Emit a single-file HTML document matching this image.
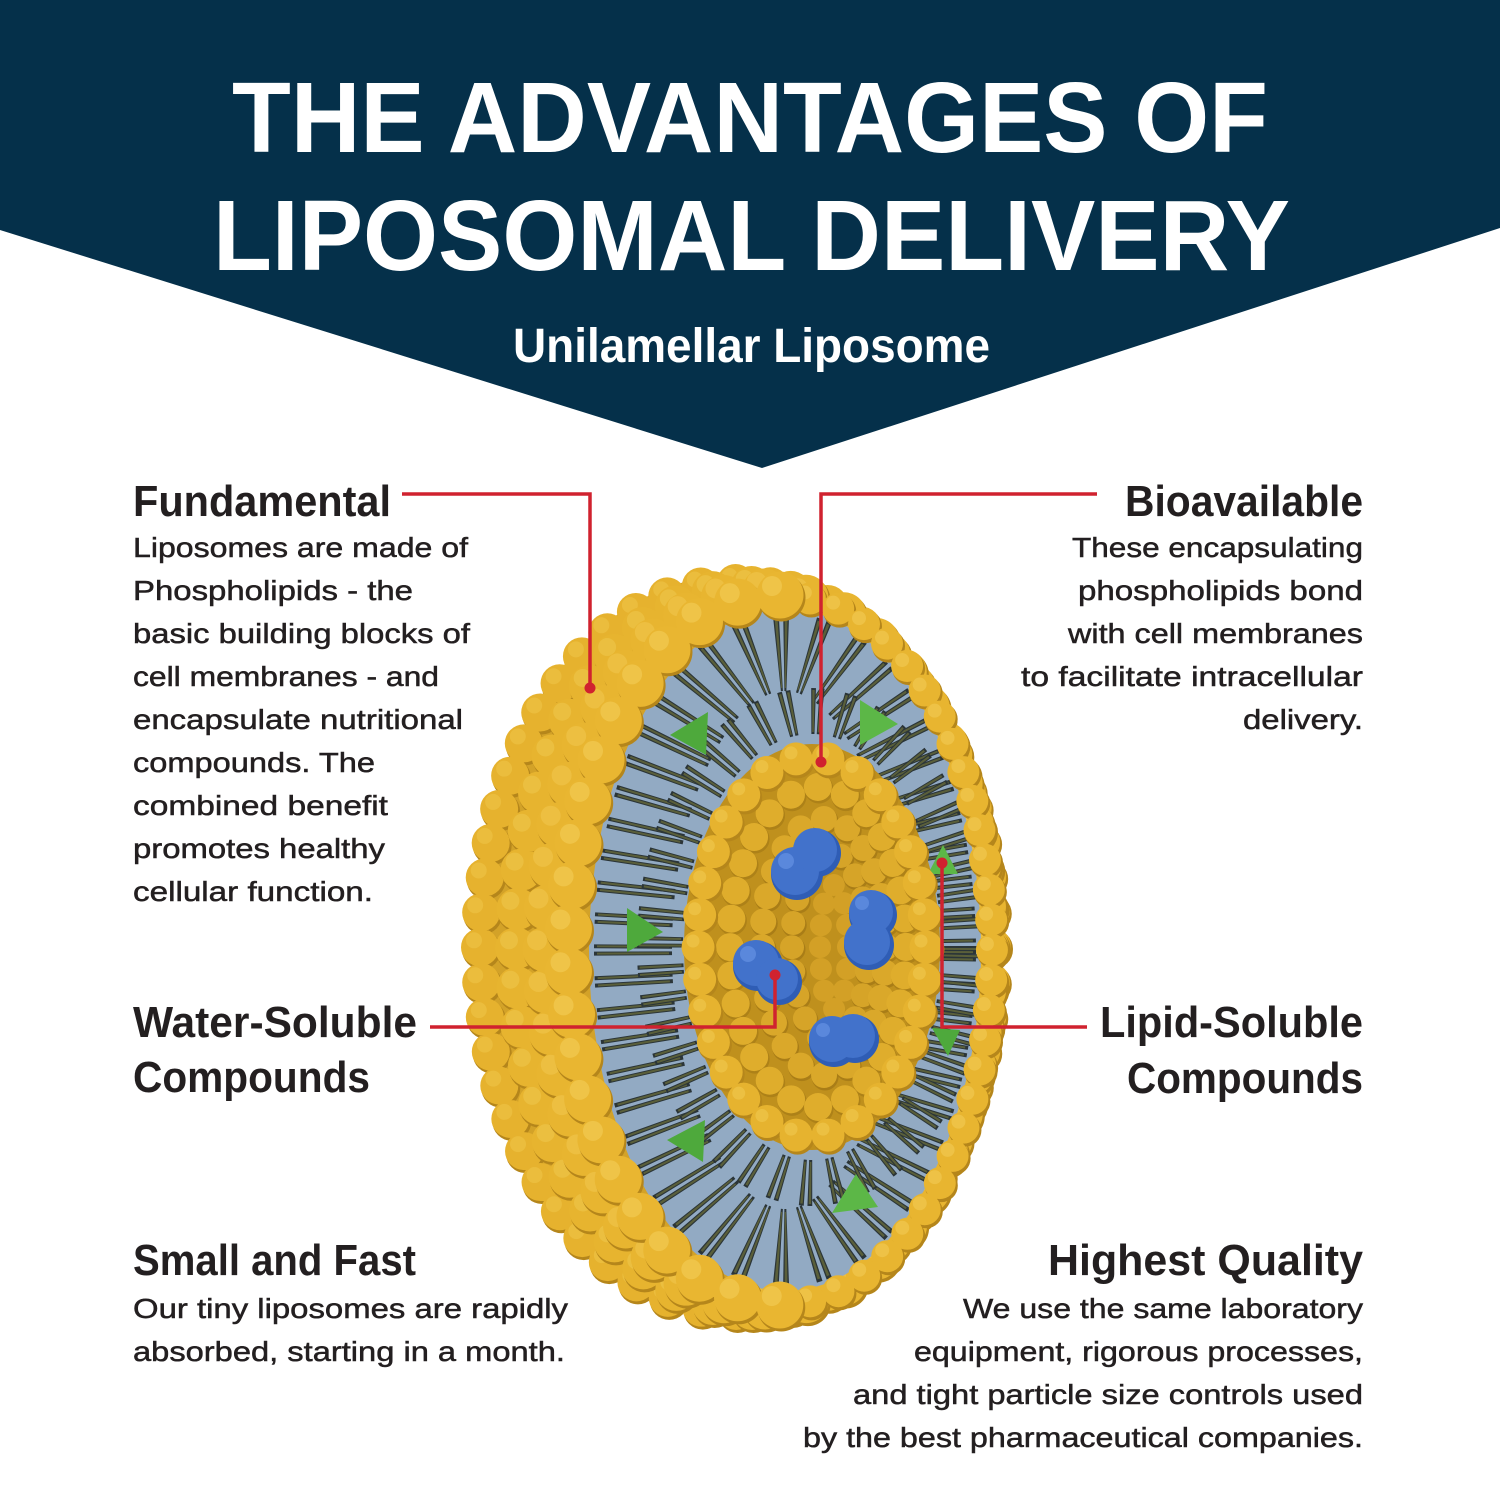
<!DOCTYPE html>
<html>
<head>
<meta charset="utf-8">
<style>
html,body{margin:0;padding:0;background:#fff;}
svg{display:block;}
text{font-family:"Liberation Sans",Arial,sans-serif;}
.h{font-size:44px;font-weight:700;fill:#231f20;}
.b{font-size:28px;fill:#231f20;stroke:#231f20;stroke-width:0.5px;}
</style>
</head>
<body>
<svg width="1500" height="1501" viewBox="0 0 1500 1501" xmlns="http://www.w3.org/2000/svg">
<defs>
  <clipPath id="blueClip"><ellipse cx="785" cy="950" rx="196" ry="341"/></clipPath>
</defs>
<rect x="0" y="0" width="1500" height="1501" fill="#fff"/>
<!-- banner -->
<polygon points="0,0 1500,0 1500,228 762,468 0,230" fill="#05304a"/>
<text x="232" y="152" font-size="100" font-weight="700" fill="#fff" textLength="1036" lengthAdjust="spacingAndGlyphs">THE ADVANTAGES OF</text>
<text x="213" y="270" font-size="100" font-weight="700" fill="#fff" textLength="1077" lengthAdjust="spacingAndGlyphs">LIPOSOMAL DELIVERY</text>
<text x="513" y="362" font-size="48" font-weight="700" fill="#fff" textLength="477" lengthAdjust="spacingAndGlyphs">Unilamellar Liposome</text>

<!-- ===== liposome ===== -->
<g stroke-linecap="round" fill="none">
  <!-- silhouette base -->
  <ellipse cx="735" cy="947" rx="262" ry="372" fill="#d3a228" stroke="none"/>
  <!-- Row A -->
  <ellipse cx="736" cy="947" rx="256" ry="364" pathLength="56" stroke="#b5861b" stroke-width="39" stroke-dasharray="0 1" transform="translate(1.5,2.5)"/>
  <ellipse cx="736" cy="947" rx="256" ry="364" pathLength="56" stroke="#e6b22e" stroke-width="38" stroke-dasharray="0 1"/>
  <ellipse cx="736" cy="947" rx="256" ry="364" pathLength="56" stroke="#f2cc55" stroke-width="16" stroke-dasharray="0 1" opacity="0.4" transform="translate(-6,-7)"/>
  <!-- Row B -->
  <ellipse cx="752" cy="948" rx="236" ry="361" pathLength="48" stroke="#b5861b" stroke-width="43" stroke-dasharray="0 1" transform="translate(1.5,2.5)"/>
  <ellipse cx="752" cy="948" rx="236" ry="361" pathLength="48" stroke="#e7b42f" stroke-width="42" stroke-dasharray="0 1"/>
  <ellipse cx="752" cy="948" rx="236" ry="361" pathLength="48" stroke="#f3cf5a" stroke-width="18" stroke-dasharray="0 1" opacity="0.4" transform="translate(-7,-8)"/>
  <!-- Row C -->
  <ellipse cx="765" cy="949" rx="220" ry="358" pathLength="44" stroke="#b5861b" stroke-width="46" stroke-dasharray="0 1" transform="translate(1.5,2.5)"/>
  <ellipse cx="765" cy="949" rx="220" ry="358" pathLength="44" stroke="#e8b530" stroke-width="45" stroke-dasharray="0 1"/>
  <ellipse cx="765" cy="949" rx="220" ry="358" pathLength="44" stroke="#f4d05c" stroke-width="20" stroke-dasharray="0 1" opacity="0.4" transform="translate(-8,-9)"/>

  <!-- blue cut face -->
  <ellipse cx="785" cy="950" rx="196" ry="341" fill="#92aac3" stroke="none"/>

  <!-- tails -->
  <g clip-path="url(#blueClip)">
    <ellipse cx="785" cy="950" rx="152" ry="298" stroke="#2b3538" stroke-width="78" stroke-dasharray="4 3 4 19" stroke-linecap="butt"/>
    <ellipse cx="785" cy="950" rx="152" ry="298" stroke="#5a5f3a" stroke-width="72" stroke-dasharray="2 5 2 21" stroke-dashoffset="-1" stroke-linecap="butt"/>
    <ellipse cx="812" cy="947" rx="152" ry="236" stroke="#2b3538" stroke-width="46" stroke-dasharray="4 3 4 17" stroke-linecap="butt"/>
    <ellipse cx="812" cy="947" rx="152" ry="236" stroke="#5a5f3a" stroke-width="42" stroke-dasharray="2 5 2 19" stroke-dashoffset="-1" stroke-linecap="butt"/>
  </g>

  <!-- green triangles -->
  <g stroke="none">
    <polygon points="670,735 708,712 706,755" fill="#4ea93c"/>
    <polygon points="860,700 898,724 860,745" fill="#5cb747"/>
    <polygon points="627,908 663,932 627,952" fill="#4ea93c"/>
    <polygon points="943,845 958,874 928,874" fill="#5cb747"/>
    <polygon points="932,1028 960,1030 948,1056" fill="#4ea93c"/>
    <polygon points="667,1140 705,1120 703,1162" fill="#4ea93c"/>
    <polygon points="856,1174 878,1207 832,1213" fill="#5cb747"/>
  </g>

  <!-- heads ring right arc -->
  <path d="M780,595 A212,355 0 0 1 780,1305" pathLength="30" stroke="#b5861b" stroke-width="33" stroke-dasharray="0 1" transform="translate(1.5,2.5)"/>
  <path d="M780,595 A212,355 0 0 1 780,1305" pathLength="30" stroke="#e8b530" stroke-width="32" stroke-dasharray="0 1"/>
  <path d="M780,595 A212,355 0 0 1 780,1305" pathLength="30" stroke="#f4d05c" stroke-width="14" stroke-dasharray="0 1" opacity="0.5" transform="translate(-5,-6)"/>
  <!-- heads ring left arc -->
  <path d="M780,595 A212,355 0 0 0 780,1305" pathLength="21" stroke="#b5861b" stroke-width="48" stroke-dasharray="0 1" transform="translate(1.5,2.5)"/>
  <path d="M780,595 A212,355 0 0 0 780,1305" pathLength="21" stroke="#e9b631" stroke-width="47" stroke-dasharray="0 1"/>
  <path d="M780,595 A212,355 0 0 0 780,1305" pathLength="21" stroke="#f5d260" stroke-width="20" stroke-dasharray="0 1" opacity="0.5" transform="translate(-8,-9)"/>

  <!-- inner body -->
  <ellipse cx="812" cy="947" rx="128" ry="203" fill="#bf901d" stroke="none"/>
  <ellipse cx="834" cy="947" rx="14" ry="62" pathLength="12" stroke="#d3a026" stroke-width="22" stroke-dasharray="0 1"/>
  <ellipse cx="830" cy="947" rx="38" ry="95" pathLength="18" stroke="#a97d17" stroke-width="25" stroke-dasharray="0 1" transform="translate(1,2)"/>
  <ellipse cx="830" cy="947" rx="38" ry="95" pathLength="18" stroke="#d6a428" stroke-width="24" stroke-dasharray="0 1"/>
  <ellipse cx="824" cy="947" rx="62" ry="128" pathLength="24" stroke="#a97d17" stroke-width="27" stroke-dasharray="0 1" transform="translate(1,2)"/>
  <ellipse cx="824" cy="947" rx="62" ry="128" pathLength="24" stroke="#daa82a" stroke-width="26" stroke-dasharray="0 1"/>
  <ellipse cx="818" cy="947" rx="88" ry="160" pathLength="28" stroke="#ad8118" stroke-width="29" stroke-dasharray="0 1" transform="translate(1,2)"/>
  <ellipse cx="818" cy="947" rx="88" ry="160" pathLength="28" stroke="#dfad2c" stroke-width="28" stroke-dasharray="0 1"/>
  <ellipse cx="812" cy="947" rx="114" ry="190" pathLength="30" stroke="#b5861b" stroke-width="34" stroke-dasharray="0 1" transform="translate(1.5,2.5)"/>
  <ellipse cx="812" cy="947" rx="114" ry="190" pathLength="30" stroke="#e6b32f" stroke-width="33" stroke-dasharray="0 1"/>
  <ellipse cx="812" cy="947" rx="114" ry="190" pathLength="30" stroke="#f4d05c" stroke-width="13" stroke-dasharray="0 1" opacity="0.45" transform="translate(-5,-6)"/>

  <!-- blue blobs -->
  <g stroke="none">
    <circle cx="797" cy="874" r="26" fill="#2f5db5"/><circle cx="817" cy="853" r="24" fill="#2f5db5"/>
    <circle cx="795" cy="871" r="24" fill="#4272cb"/><circle cx="815" cy="850" r="22" fill="#4272cb"/>
    <circle cx="786" cy="861" r="8" fill="#6592e2" opacity="0.7"/>

    <circle cx="873" cy="915" r="24" fill="#2f5db5"/><circle cx="869" cy="945" r="25" fill="#2f5db5"/>
    <circle cx="871" cy="912" r="22" fill="#4272cb"/><circle cx="867" cy="942" r="23" fill="#4272cb"/>
    <circle cx="862" cy="903" r="7" fill="#6592e2" opacity="0.7"/>

    <circle cx="758" cy="966" r="25" fill="#2f5db5"/><circle cx="779" cy="982" r="23" fill="#2f5db5"/>
    <circle cx="756" cy="963" r="23" fill="#4272cb"/><circle cx="777" cy="979" r="21" fill="#4272cb"/>
    <circle cx="748" cy="954" r="8" fill="#6592e2" opacity="0.7"/>

    <circle cx="834" cy="1042" r="25" fill="#2f5db5"/><circle cx="855" cy="1039" r="24" fill="#2f5db5"/>
    <circle cx="832" cy="1039" r="23" fill="#4272cb"/><circle cx="853" cy="1036" r="22" fill="#4272cb"/>
    <circle cx="823" cy="1030" r="7" fill="#6592e2" opacity="0.7"/>
  </g>
</g>

<!-- red connectors -->
<g stroke="#d0222f" stroke-width="3.5" fill="none" stroke-linejoin="miter">
  <polyline points="402,494 590,494 590,688"/>
  <polyline points="1097,494 821,494 821,762"/>
  <polyline points="430,1027 775,1027 775,975"/>
  <polyline points="1087,1027 942,1027 942,863"/>
</g>
<g fill="#d0222f">
  <circle cx="590" cy="688" r="5.5"/>
  <circle cx="821" cy="762" r="5.5"/>
  <circle cx="775" cy="975" r="5.5"/>
  <circle cx="942" cy="863" r="5.5"/>
</g>

<!-- left text -->
<text class="h" x="133" y="516" textLength="258" lengthAdjust="spacingAndGlyphs">Fundamental</text>
<text class="b" x="133" y="557" textLength="335" lengthAdjust="spacingAndGlyphs">Liposomes are made of</text>
<text class="b" x="133" y="600" textLength="280" lengthAdjust="spacingAndGlyphs">Phospholipids - the</text>
<text class="b" x="133" y="643" textLength="337" lengthAdjust="spacingAndGlyphs">basic building blocks of</text>
<text class="b" x="133" y="686" textLength="306" lengthAdjust="spacingAndGlyphs">cell membranes - and</text>
<text class="b" x="133" y="729" textLength="330" lengthAdjust="spacingAndGlyphs">encapsulate nutritional</text>
<text class="b" x="133" y="772" textLength="242" lengthAdjust="spacingAndGlyphs">compounds. The</text>
<text class="b" x="133" y="815" textLength="255" lengthAdjust="spacingAndGlyphs">combined benefit</text>
<text class="b" x="133" y="858" textLength="252" lengthAdjust="spacingAndGlyphs">promotes healthy</text>
<text class="b" x="133" y="901" textLength="240" lengthAdjust="spacingAndGlyphs">cellular function.</text>

<text class="h" x="133" y="1037" textLength="284" lengthAdjust="spacingAndGlyphs">Water-Soluble</text>
<text class="h" x="133" y="1092" textLength="237" lengthAdjust="spacingAndGlyphs">Compounds</text>

<text class="h" x="133" y="1275" textLength="283" lengthAdjust="spacingAndGlyphs">Small and Fast</text>
<text class="b" x="133" y="1318" textLength="435" lengthAdjust="spacingAndGlyphs">Our tiny liposomes are rapidly</text>
<text class="b" x="133" y="1361" textLength="432" lengthAdjust="spacingAndGlyphs">absorbed, starting in a month.</text>

<!-- right text -->
<text class="h" x="1125" y="516" textLength="238" lengthAdjust="spacingAndGlyphs">Bioavailable</text>
<text class="b" x="1072" y="557" textLength="291" lengthAdjust="spacingAndGlyphs">These encapsulating</text>
<text class="b" x="1078" y="600" textLength="285" lengthAdjust="spacingAndGlyphs">phospholipids bond</text>
<text class="b" x="1068" y="643" textLength="295" lengthAdjust="spacingAndGlyphs">with cell membranes</text>
<text class="b" x="1021" y="686" textLength="342" lengthAdjust="spacingAndGlyphs">to facilitate intracellular</text>
<text class="b" x="1243" y="729" textLength="120" lengthAdjust="spacingAndGlyphs">delivery.</text>

<text class="h" x="1100" y="1037" textLength="263" lengthAdjust="spacingAndGlyphs">Lipid-Soluble</text>
<text class="h" x="1127" y="1093" textLength="236" lengthAdjust="spacingAndGlyphs">Compounds</text>

<text class="h" x="1048" y="1275" textLength="315" lengthAdjust="spacingAndGlyphs">Highest Quality</text>
<text class="b" x="963" y="1318" textLength="400" lengthAdjust="spacingAndGlyphs">We use the same laboratory</text>
<text class="b" x="914" y="1361" textLength="449" lengthAdjust="spacingAndGlyphs">equipment, rigorous processes,</text>
<text class="b" x="853" y="1404" textLength="510" lengthAdjust="spacingAndGlyphs">and tight particle size controls used</text>
<text class="b" x="803" y="1447" textLength="560" lengthAdjust="spacingAndGlyphs">by the best pharmaceutical companies.</text>
</svg>
</body>
</html>
